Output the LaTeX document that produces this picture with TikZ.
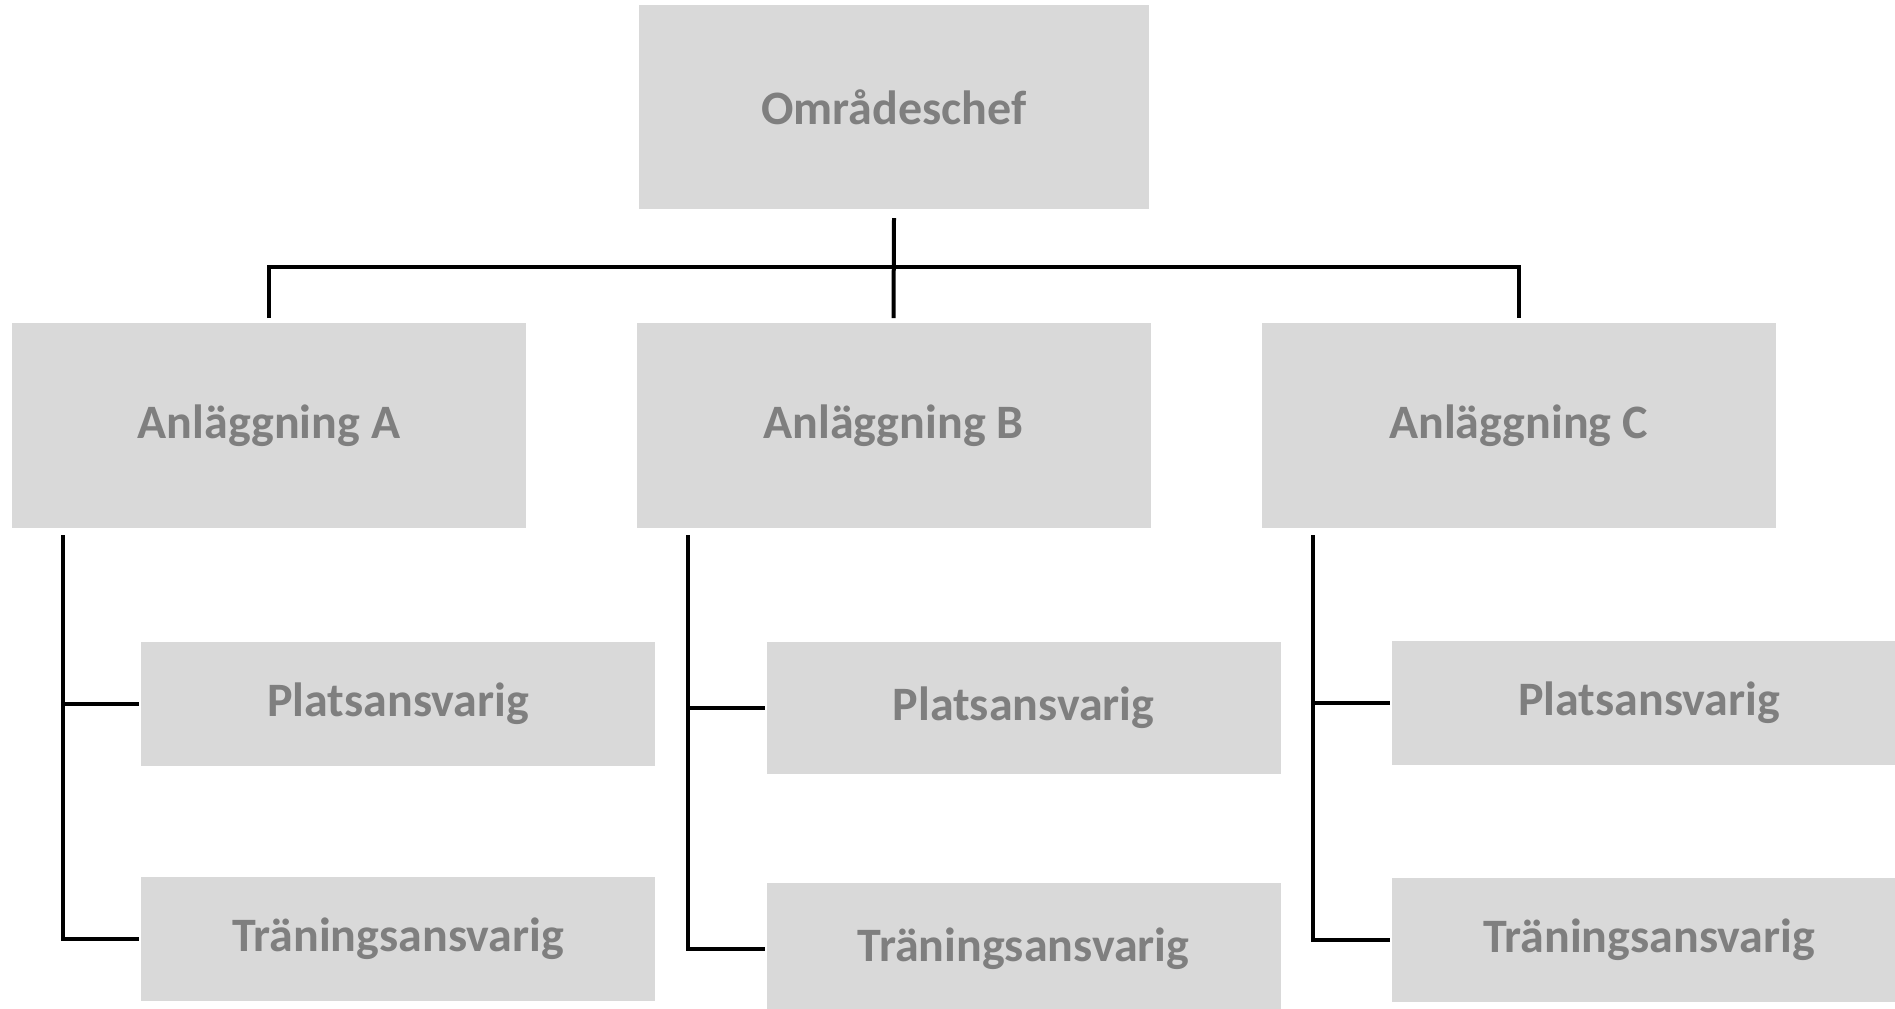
\documentclass[tikz,border=0pt]{standalone}
\usepackage{fontspec}
\setmainfont{Carlito}
\usetikzlibrary{positioning}

\definecolor{boxgray}{RGB}{217,217,217}
\definecolor{textgray}{RGB}{127,127,127}

\tikzset{every picture/.style={line width=2pt}}
\tikzset{
  orgbox/.style={fill=boxgray, draw=none, inner sep=0pt, minimum width=257pt, text=textgray,
                 font=\fontsize{24}{28}\selectfont\bfseries},
  bigbox/.style={orgbox, minimum height=102.5pt},
  smallbox/.style={orgbox, minimum height=62pt},
  conn/.style={draw=black, line width=2pt}
}

\begin{document}
\begin{tikzpicture}[x=0.5pt,y=0.5pt,yscale=-1,xscale=1]
\clip (0,0) rectangle (1895,1008); %set diagram size to the reference

%Shape: Rectangle [chef]
\node [bigbox, minimum width=255pt, minimum height=102pt] (chef) at (894,107) {Områdeschef};

%Shape: Rectangle [anlA, anlB, anlC]
\node [bigbox] (anlA) at (269,425.5) {Anläggning A};
\node [bigbox] (anlB) at (893.5,425.5) {Anläggning B};
\node [bigbox] (anlC) at (1518.5,425.5) {Anläggning C};

%Shape: Rectangle [third row]
\node [smallbox] (platsA) at (398,703.5) {Platsansvarig};
\node [smallbox] (tranA) at (398,939) {Träningsansvarig};
\node [smallbox, minimum height=66pt] (platsB) at (1023.5,707.5) {Platsansvarig};
\node [smallbox, minimum height=66pt] (tranB) at (1023.5,949) {Träningsansvarig};
\node [smallbox] (platsC) at (1649,702.5) {Platsansvarig};
\node [smallbox] (tranC) at (1649,940) {Träningsansvarig};

%Straight Lines [chef to anlaggningar]
\coordinate (bus) at (894,267);
\draw [conn] ([yshift=3.5pt]chef.south) -- ([yshift=-1.5pt]anlB.north);
\draw [conn] ([yshift=-1.5pt]anlA.north) -- (anlA.north |- bus) -- (anlC.north |- bus) -- ([yshift=-1.5pt]anlC.north);

%Straight Lines [anlaggning to ansvariga]
\foreach \anl/\col in {anlA/A, anlB/B, anlC/C}{
  \coordinate (sp\col) at ([xshift=26.5pt,yshift=2.5pt]\anl.south west);
  \draw [conn] (sp\col) -- (sp\col |- tran\col.west) -- (tran\col.west);
  \draw [conn] (sp\col |- plats\col.west) -- (plats\col.west);
}

\end{tikzpicture}
\end{document}
